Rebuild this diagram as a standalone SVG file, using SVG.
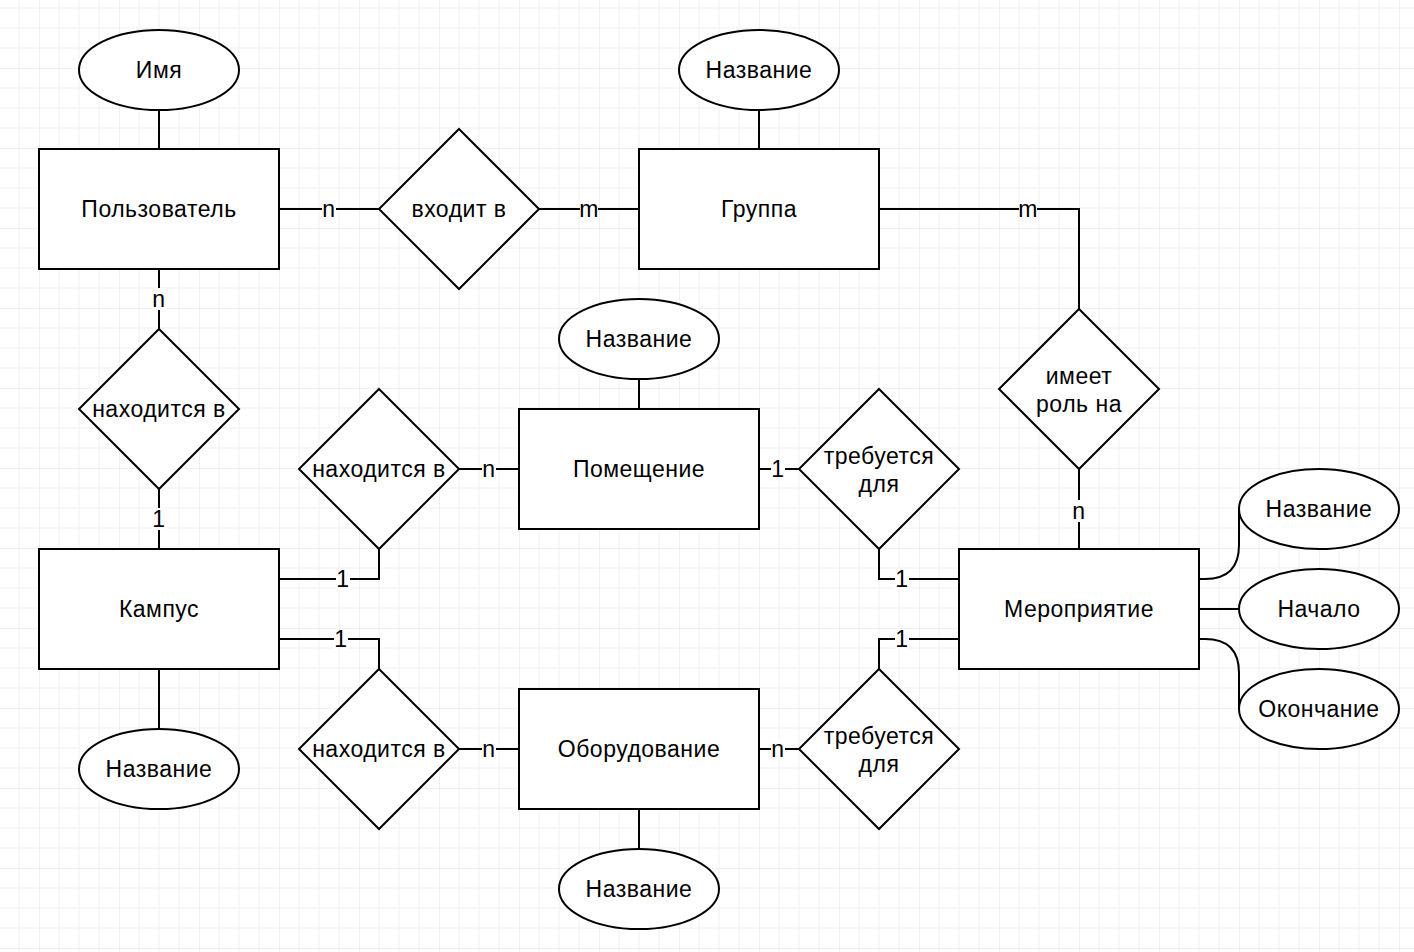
<svg xmlns="http://www.w3.org/2000/svg" width="1414" height="952" viewBox="0 0 1414 952">
<defs>
<pattern id="grid" x="39" y="68" width="80" height="80" patternUnits="userSpaceOnUse">
<path d="M20 0V80M40 0V80M60 0V80M0 20H80M0 40H80M0 60H80" stroke="#f0f0f0" stroke-width="1" fill="none"/>
<path d="M0 0V80M0 0H80" stroke="#e4e4e4" stroke-width="1.2" fill="none"/>
</pattern>
<style>
.s{fill:#fff;stroke:#000;stroke-width:2}
.c{fill:none;stroke:#000;stroke-width:2}
text{font-family:"Liberation Sans",Arial,Helvetica,sans-serif;font-size:23px;letter-spacing:0.5px;fill:#000;text-anchor:middle;dominant-baseline:central}
.lb{fill:#fff;stroke:none}
</style>
</defs>
<rect width="1414" height="952" fill="#fff"/>
<rect width="1414" height="952" fill="url(#grid)"/>

<g id="connectors">
<path class="c" d="M159 110V149"/>
<path class="c" d="M279 209H379"/>
<path class="c" d="M539 209H639"/>
<path class="c" d="M759 110V149"/>
<path class="c" d="M879 209H1079V309"/>
<path class="c" d="M1079 469V549"/>
<path class="c" d="M159 269V329"/>
<path class="c" d="M159 489V549"/>
<path class="c" d="M159 669V729"/>
<path class="c" d="M279 579H379V549"/>
<path class="c" d="M279 639H379V669"/>
<path class="c" d="M459 469H519"/>
<path class="c" d="M639 409V379"/>
<path class="c" d="M759 469H799"/>
<path class="c" d="M879 549V579H959"/>
<path class="c" d="M959 639H879V669"/>
<path class="c" d="M459 749H519"/>
<path class="c" d="M759 749H799"/>
<path class="c" d="M639 809V849"/>
<path class="c" d="M1199 579H1205Q1239 579 1239 545V509"/>
<path class="c" d="M1199 609H1239"/>
<path class="c" d="M1199 639H1205Q1239 639 1239 673V709"/>
<g id="labels">
<rect class="lb" x="322" y="199" width="14" height="20"/><text x="329" y="209">n</text>
<rect class="lb" x="580" y="199" width="18" height="20"/><text x="589" y="209">m</text>
<rect class="lb" x="1019" y="199" width="18" height="20"/><text x="1028" y="209">m</text>
<rect class="lb" x="1072" y="500" width="14" height="22"/><text x="1079" y="511">n</text>
<rect class="lb" x="152" y="288" width="14" height="22"/><text x="159" y="299">n</text>
<rect class="lb" x="152" y="508" width="14" height="22"/><text x="159" y="519">1</text>
<rect class="lb" x="336" y="569" width="14" height="20"/><text x="343" y="579">1</text>
<rect class="lb" x="334" y="629" width="14" height="20"/><text x="341" y="639">1</text>
<rect class="lb" x="482" y="459" width="14" height="20"/><text x="489" y="469">n</text>
<rect class="lb" x="771" y="459" width="14" height="20"/><text x="778" y="469">1</text>
<rect class="lb" x="895" y="569" width="14" height="20"/><text x="902" y="579">1</text>
<rect class="lb" x="895" y="629" width="14" height="20"/><text x="902" y="639">1</text>
<rect class="lb" x="482" y="739" width="14" height="20"/><text x="489" y="749">n</text>
<rect class="lb" x="771" y="739" width="14" height="20"/><text x="778" y="749">n</text>
</g>
</g>

<g id="attr-user-name"><ellipse class="s" cx="159" cy="70" rx="80" ry="40"/><text x="159" y="70">Имя</text></g>
<g id="user"><rect class="s" x="39" y="149" width="240" height="120"/><text x="159" y="209">Пользователь</text></g>
<g id="rel-member"><polygon class="s" points="459,129 539,209 459,289 379,209"/><text x="459" y="209">входит в</text></g>
<g id="group"><rect class="s" x="639" y="149" width="240" height="120"/><text x="759" y="209">Группа</text></g>
<g id="attr-group-name"><ellipse class="s" cx="759" cy="70" rx="80" ry="40"/><text x="759" y="70">Название</text></g>
<g id="rel-role"><polygon class="s" points="1079,309 1159,389 1079,469 999,389"/><text x="1079" y="376">имеет</text><text x="1079" y="404">роль на</text></g>
<g id="event"><rect class="s" x="959" y="549" width="240" height="120"/><text x="1079" y="609">Мероприятие</text></g>
<g id="attr-event-name"><ellipse class="s" cx="1319" cy="509" rx="80" ry="40"/><text x="1319" y="509">Название</text></g>
<g id="attr-event-start"><ellipse class="s" cx="1319" cy="609" rx="80" ry="40"/><text x="1319" y="609">Начало</text></g>
<g id="attr-event-end"><ellipse class="s" cx="1319" cy="709" rx="80" ry="40"/><text x="1319" y="709">Окончание</text></g>
<g id="rel-user-campus"><polygon class="s" points="159,329 239,409 159,489 79,409"/><text x="159" y="409">находится в</text></g>
<g id="campus"><rect class="s" x="39" y="549" width="240" height="120"/><text x="159" y="609">Кампус</text></g>
<g id="attr-campus-name"><ellipse class="s" cx="159" cy="769" rx="80" ry="40"/><text x="159" y="769">Название</text></g>
<g id="rel-room-campus"><polygon class="s" points="379,389 459,469 379,549 299,469"/><text x="379" y="469">находится в</text></g>
<g id="room"><rect class="s" x="519" y="409" width="240" height="120"/><text x="639" y="469">Помещение</text></g>
<g id="attr-room-name"><ellipse class="s" cx="639" cy="339" rx="80" ry="40"/><text x="639" y="339">Название</text></g>
<g id="rel-room-event"><polygon class="s" points="879,389 959,469 879,549 799,469"/><text x="879" y="456">требуется</text><text x="879" y="484">для</text></g>
<g id="rel-equip-campus"><polygon class="s" points="379,669 459,749 379,829 299,749"/><text x="379" y="749">находится в</text></g>
<g id="equipment"><rect class="s" x="519" y="689" width="240" height="120"/><text x="639" y="749">Оборудование</text></g>
<g id="attr-equip-name"><ellipse class="s" cx="639" cy="889" rx="80" ry="40"/><text x="639" y="889">Название</text></g>
<g id="rel-equip-event"><polygon class="s" points="879,669 959,749 879,829 799,749"/><text x="879" y="736">требуется</text><text x="879" y="764">для</text></g>
</svg>
